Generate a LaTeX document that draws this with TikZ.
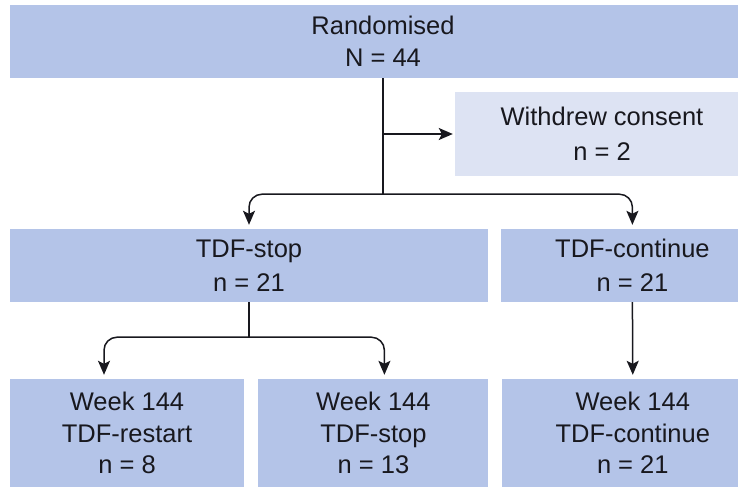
\documentclass[tikz,border=0pt]{standalone}
\usepackage{fontspec}
\setmainfont{Liberation Sans}
\usepackage{xcolor}
\definecolor{boxblue}{RGB}{180, 196, 232}
\definecolor{boxpale}{RGB}{221, 227, 243}
\definecolor{ink}{RGB}{24, 24, 30}
\usepackage{tikz}
\usetikzlibrary{arrows.meta, positioning}
\tikzstyle{box} = [rectangle, fill=boxblue, text=ink, align=center, inner sep=0pt, font=\fontsize{25.5}{31.5}\selectfont]
\tikzstyle{line} = [line width=1.5pt, draw=ink]
\tikzstyle{arrow} = [line width=1.5pt, draw=ink, -{Stealth[length=14pt, width=12pt, inset=3pt]}, shorten >=4pt]

\begin{document}
\begin{tikzpicture}[x=1pt, y=-1pt, node distance=13pt]
    \useasboundingbox (0,0) rectangle (738,490);
    \clip (0,0) rectangle (738,490);

    \node[box, minimum width=746pt, minimum height=73pt] (rand) at (383,41.5) {Randomised\\N = 44};
    \node[box, fill=boxpale, minimum width=294pt, minimum height=84pt] (withdrew) at (602,134) {Withdrew consent\\[3pt]n = 2};
    \node[box, minimum width=478pt, minimum height=73pt] (stop) at (249,265.5) {TDF-stop\\[2pt]n = 21};
    \node[box, minimum width=262pt, minimum height=73pt, right=of stop] (cont) {TDF-continue\\[2pt]n = 21};
    \node[box, minimum width=234pt, minimum height=108pt] (wkrestart) at (127,433) {Week 144\\TDF-restart\\n = 8};
    \node[box, minimum width=230pt, minimum height=108pt, right=14pt of wkrestart] (wkstop) {Week 144\\TDF-stop\\n = 13};
    \node[box, minimum width=262pt, minimum height=108pt, right=of wkstop] (wkcont) {Week 144\\TDF-continue\\n = 21};

    % branch points
    \coordinate[below=116pt of rand.south] (split);
    \coordinate[below=35pt of stop.south] (split2);

    \draw[line] (rand.south) -- (split);
    \draw[arrow, shorten >=2pt] (rand.south |- withdrew.west) -- (withdrew.west);
    \draw[arrow, rounded corners=13pt] (split) -| (stop.north);
    \draw[arrow, rounded corners=13pt] (split) -| (cont.north);

    \draw[line] (stop.south) -- (split2);
    \draw[arrow, rounded corners=13pt] (split2) -| ([xshift=-23pt]wkrestart.north);
    \draw[arrow, rounded corners=13pt] (split2) -| ([xshift=11pt]wkstop.north);
    \draw[arrow] (cont.south) -- (wkcont.north);
\end{tikzpicture}
\end{document}
